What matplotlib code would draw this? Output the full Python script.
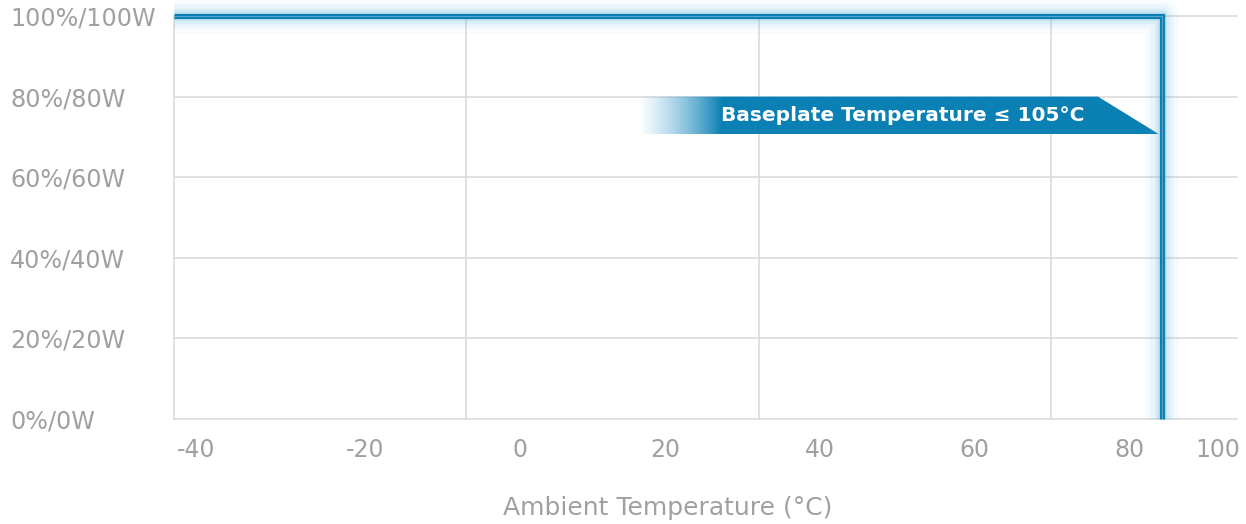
import numpy as np
import matplotlib
matplotlib.use("Agg")
import matplotlib.pyplot as plt
from matplotlib.patches import Polygon

# derating curve
ambient = [-45, 85, 85]
load = [100, 100, 0]

y_ticks = [0, 20, 40, 60, 80, 100]
y_labels = ["0%/0W", "20%/20W", "40%/40W", "60%/60W", "80%/80W", "100%/100W"]

x_labels = ["-40", "-20", "0", "20", "40", "60", "80", "100"]
x_label_pos = [-42.1, -19.9, 0.5, 19.6, 40, 60.4, 80.8, 92.4]
x_grid = [-6.6, 32.0, 70.4]

banner_text = "Baseplate Temperature \u2264 105\u00b0C"

BLUE = "#0b80b4"
GREY = "#a0a0a0"
GRID = "#dcdcdc"

plt.rcParams['font.family'] = ['DejaVu Sans']

fig = plt.figure(figsize=(12.46, 5.24), dpi=100)
ax = fig.add_axes([174 / 1246, 1 - 419 / 524, 1063 / 1246, 403 / 524])

ax.set_xlim(-45, 94.9)
ax.set_ylim(0, 100)

# grid
for y in y_ticks[1:]:
    ax.axhline(y, color=GRID, lw=1.2, zorder=0, clip_on=False)
for x in x_grid:
    ax.axvline(x, color=GRID, lw=1.2, zorder=0)

for s in ["top", "right"]:
    ax.spines[s].set_visible(False)
for s in ["left", "bottom"]:
    ax.spines[s].set_color(GRID)
    ax.spines[s].set_linewidth(1.2)

# glow + curve
for w, a in [(24, 0.05), (17, 0.08), (11, 0.11), (7, 0.15)]:
    ax.plot(ambient, load, color="#5ab4e0", lw=w, alpha=a, clip_on=False,
            solid_joinstyle="round", solid_capstyle="butt", zorder=3)
ax.plot(ambient, load, color=BLUE, lw=3.8, clip_on=False,
        solid_joinstyle="miter", solid_capstyle="butt", zorder=4)
ax.plot(ambient, load, color="white", lw=0.5, alpha=0.45, clip_on=False,
        solid_joinstyle="miter", solid_capstyle="butt", zorder=5)

# banner with faded left end
top, bot = 80, 70.7
x0, x_full, x_corner, x_tip = 16.3, 27.0, 76.6, 84.6
poly = Polygon([[x0, top], [x_corner, top], [x_tip, bot], [x0, bot]],
               closed=True, facecolor="none", edgecolor="none")
ax.add_patch(poly)
n = 400
xs = np.linspace(x0, x_tip, n)
ramp = np.clip((xs - x0) / (x_full - x0), 0, 1)
rgb = np.array(matplotlib.colors.to_rgb(BLUE))
light = np.array(matplotlib.colors.to_rgb("#8cc8e6"))
img = np.zeros((2, n, 4))
col = light[None, :] * (1 - ramp[:, None]) + rgb[None, :] * ramp[:, None]
img[:, :, :3] = col[None, :, :]
img[:, :, 3] = ramp[None, :] ** 0.8
im = ax.imshow(img, extent=[x0, x_tip, bot, top], aspect="auto",
               interpolation="bilinear", zorder=2)
im.set_clip_path(poly)
ax.text(27.0, (top + bot) / 2, banner_text, color="white", fontsize=14.5,
        fontweight="bold", va="center", ha="left", zorder=6)

# ticks
ax.set_yticks(y_ticks)
ax.set_yticklabels(y_labels)
ax.tick_params(axis="y", length=0, pad=164 * 72 / 100, labelsize=17.2,
               labelcolor=GREY)
for lbl in ax.get_yticklabels():
    lbl.set_horizontalalignment("left")

ax.set_xticks(x_label_pos)
ax.set_xticklabels(x_labels)
ax.tick_params(axis="x", length=0, pad=14, labelsize=17, labelcolor=GREY)

fig.text(668 / 1246, 1 - 508 / 524, "Ambient Temperature (\u00b0C)",
         color=GREY, fontsize=18, ha="center", va="center")

fig.savefig("out.png", dpi=100, facecolor="white")
